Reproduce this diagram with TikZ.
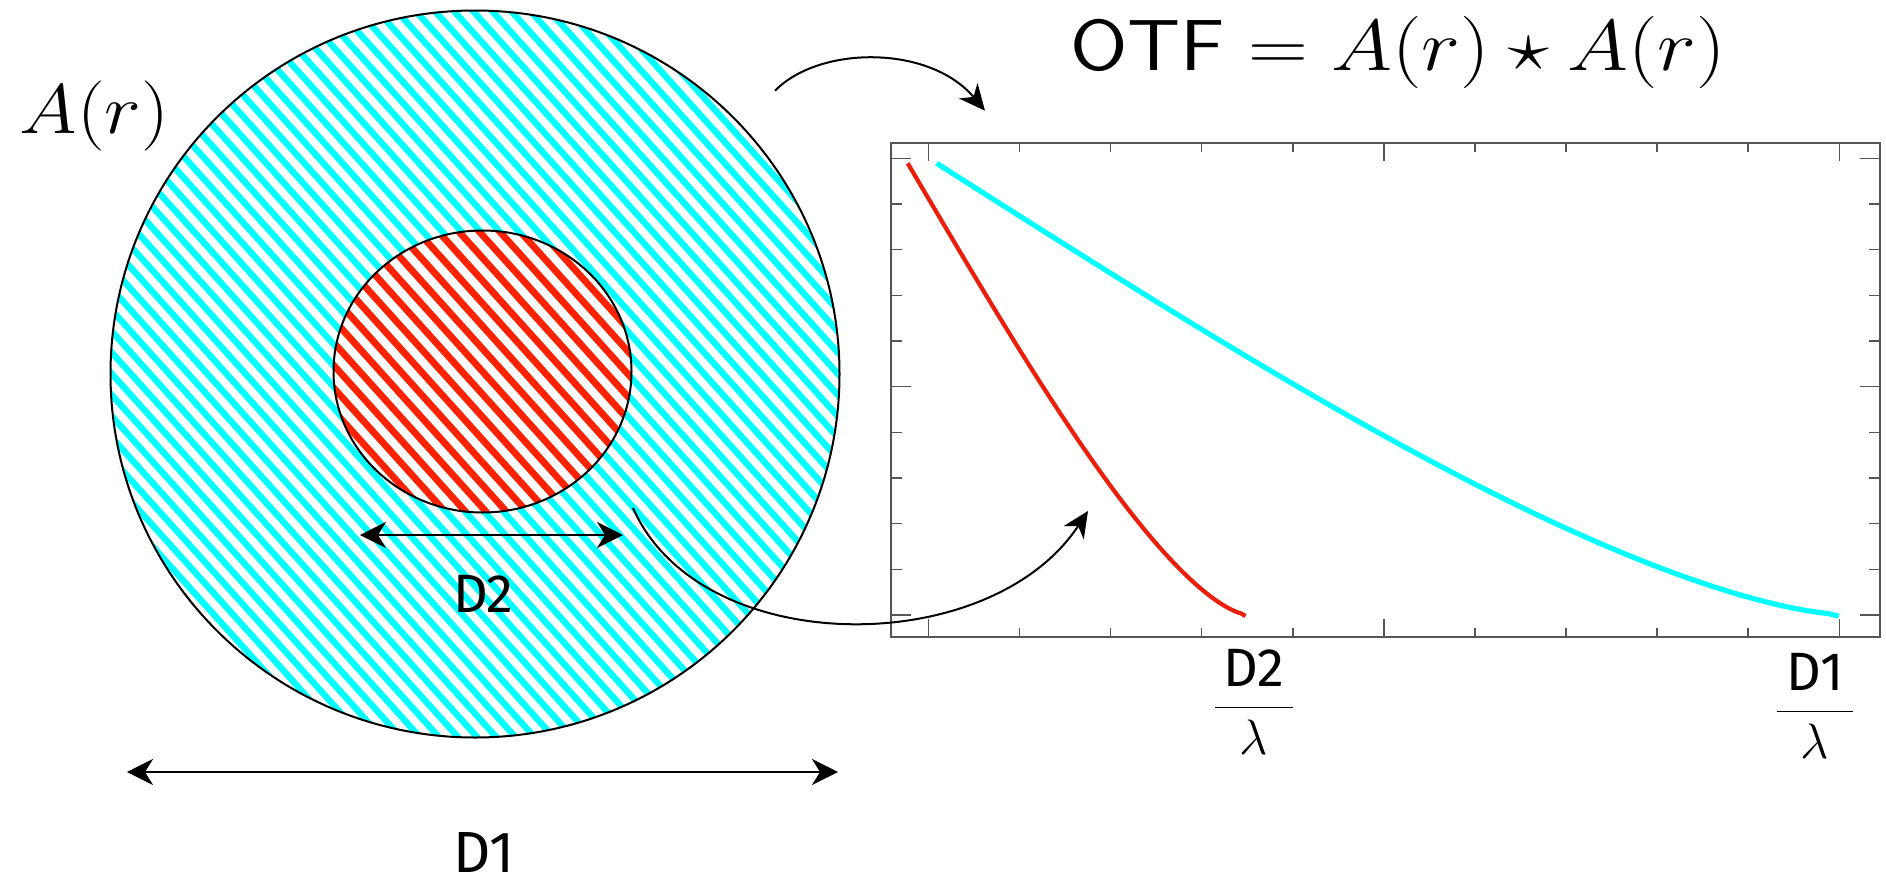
\documentclass[tikz,border=0pt]{standalone}
\usepackage{fontspec}
\usepackage{graphicx}
\newfontfamily\handfont{Fira Sans}
\usetikzlibrary{arrows.meta}

\definecolor{hatchcyan}{RGB}{0,255,255}
\definecolor{hatchred}{RGB}{255,34,0}
\definecolor{plotred}{RGB}{235,30,10}
\definecolor{axisgray}{RGB}{85,85,85}

\tikzset{
  dimarrow/.style={line width=1.1pt,{Stealth[length=13pt,width=13pt,inset=4pt]}-{Stealth[length=13pt,width=13pt,inset=4pt]}},
  bendarrow/.style={line width=1pt,-{Stealth[length=13pt,width=12pt,inset=4pt]}},
  cyanline/.style={hatchcyan,line width=3.2pt},
  redline/.style={hatchred,line width=3.4pt},
  handlabel/.style={anchor=base,inner sep=0pt},
  tickmark/.style={axisgray,line width=0.8pt}
}

\begin{document}
\begin{tikzpicture}[x=0.5pt,y=-0.5pt]
\useasboundingbox (0,0) rectangle (1886,884);

% outer aperture D1
\fill[white] (475,374) ellipse [x radius=364.5,y radius=363.5];
\begin{scope}
  \clip (475,374) ellipse [x radius=364.5,y radius=363.5];
  \begin{scope}[shift={(475,374)},rotate=-48]
    \foreach \k in {-27,...,27}
      \draw[cyanline] (-400,\k*14.2) -- (400,\k*14.2);
  \end{scope}
\end{scope}
% inner aperture D2
\fill[white] (482.5,371.5) ellipse [x radius=149,y radius=141];
\begin{scope}
  \clip (482.5,371.5) ellipse [x radius=149,y radius=141];
  \begin{scope}[shift={(482.5,371.5)},rotate=-48]
    \foreach \k in {-12,...,12}
      \draw[redline] (-200,\k*15.2) -- (200,\k*15.2);
  \end{scope}
\end{scope}
\draw[line width=1pt] (475,374) ellipse [x radius=364.5,y radius=363.5];
\draw[line width=1pt] (482.5,371.5) ellipse [x radius=149,y radius=141];

\node[anchor=base] (alabel) at (94.5,133) {\fontsize{20.74}{25}\selectfont\scalebox{1.89}[1.69]{$A(r)$}};

\coordinate (d2left) at (360,535);
\coordinate (d2right) at (623,535);
\draw[dimarrow] (d2left) -- (d2right);
\node[handlabel] (d2label) at (483.5,612) {\handfont\fontsize{27}{32}\selectfont D2};

\coordinate (d1left) at (127,772);
\coordinate (d1right) at (838,772);
\draw[dimarrow] (d1left) -- (d1right);
\node[handlabel] (d1label) at (484,872) {\handfont\fontsize{29}{34}\selectfont D1};

% OTF plot
\node[anchor=base] (otf) at (1398,70) {\fontsize{20.74}{25}\selectfont\scalebox{2.0}[1.74]{$\mathsf{OTF}=A(r)\star A(r)$}};
\draw[axisgray,line width=1pt] (891,143) rectangle (1880,637);
\foreach \i in {1,2,3,4,6,7,8,9} {
  \draw[tickmark] (928.3+91.1*\i,637) -- ++(0,-9);
  \draw[tickmark] (928.3+91.1*\i,143) -- ++(0,9);
  \draw[tickmark] (891,615-45.67*\i) -- ++(11,0);
  \draw[tickmark] (1880,615-45.67*\i) -- ++(-11,0);
}
\foreach \i in {0,5,10} {
  \draw[tickmark] (928.3+91.1*\i,637) -- ++(0,-18);
  \draw[tickmark] (928.3+91.1*\i,143) -- ++(0,18);
  \draw[tickmark] (891,615-45.67*\i) -- ++(20,0);
  \draw[tickmark] (1880,615-45.67*\i) -- ++(-20,0);
}
\draw[hatchcyan,line width=2.6pt,domain=0:1,samples=80,variable=\t]
  plot ({936.7+902.7*\t},{614.3-451*(acos(\t)/90-2/pi*\t*sqrt(max(0,1-\t*\t)))});
\draw[plotred,line width=2.1pt,domain=0:1,samples=80,variable=\t]
  plot ({907.7+338*\t},{614.3-451*(acos(\t)/90-2/pi*\t*sqrt(max(0,1-\t*\t)))});

\node[anchor=base] (d2freq) at (1254,720) {\fontsize{24.88}{30}\selectfont$\displaystyle\frac{\mbox{\handfont\fontsize{27}{30}\selectfont\,D2\,}}{\lambda}$};
\node[anchor=base] (d1freq) at (1815,724) {\fontsize{24.88}{30}\selectfont$\displaystyle\frac{\mbox{\handfont\fontsize{27}{30}\selectfont\,D1\,}}{\lambda}$};

\coordinate (topstart) at (775,90.7);
\coordinate (topend) at (985,110.7);
\draw[bendarrow] (topstart) .. controls (820,45) and (930,45) .. (topend);
\coordinate (lowstart) at (633,508);
\coordinate (lowend) at (1088,511);
\draw[bendarrow] (lowstart) .. controls (700,660) and (990,660) .. (lowend);
\end{tikzpicture}
\end{document}
